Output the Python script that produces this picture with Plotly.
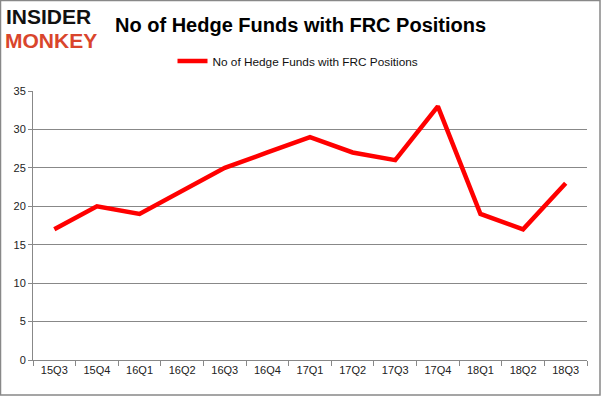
import plotly.graph_objects as go

quarters = ["15Q3", "15Q4", "16Q1", "16Q2", "16Q3", "16Q4", "17Q1", "17Q2", "17Q3", "17Q4", "18Q1", "18Q2", "18Q3"]
hedge_funds = [17, 20, 19, 22, 25, 27, 29, 27, 26, 33, 19, 17, 23]
y_ticks = [0, 5, 10, 15, 20, 25, 30, 35]
series_name = "No of Hedge Funds with FRC Positions"
title_text = "No of Hedge Funds with FRC Positions"

W, H = 601, 396
L, R, T, B = 33, 14, 91, 36
pw, ph = W - L - R, H - T - B

def px_x(x):
    return (x - L) / pw

def px_y(y):
    return (H - B - y) / ph

fig = go.Figure()
fig.add_trace(go.Scatter(
    x=quarters, y=hedge_funds, mode="lines", name=series_name,
    line=dict(color="#ff0000", width=4.5),
))

fig.update_layout(
    width=W, height=H,
    margin=dict(l=L, r=R, t=T, b=B),
    paper_bgcolor="white", plot_bgcolor="white",
    font=dict(family="Liberation Sans, Arial, sans-serif", color="#222", size=11),
    showlegend=True,
    legend=dict(orientation="h", x=px_x(298), xanchor="center", y=px_y(61), yanchor="middle",
                font=dict(size=11.8, color="#111"), bgcolor="rgba(0,0,0,0)"),
    xaxis=dict(type="category", range=[-0.5, len(quarters) - 0.5], showgrid=False,
               showline=True, linecolor="#888", linewidth=1,
               ticks="outside", tickson="boundaries", ticklen=5, tickcolor="#888",
               tickfont=dict(size=11, color="#222"), fixedrange=True),
    yaxis=dict(range=[0, 35], tickvals=y_ticks, showgrid=True, gridcolor="#888", gridwidth=1,
               showline=True, linecolor="#888", linewidth=1, ticks="outside", ticklen=4,
               tickcolor="#888", tickfont=dict(size=11, color="#222"), zeroline=False,
               fixedrange=True),
)

# title
fig.add_annotation(text="<b>" + title_text + "</b>", xref="paper", yref="paper",
                   x=px_x(300), y=px_y(25), xanchor="center", yanchor="middle",
                   showarrow=False, font=dict(size=20, color="#000",
                                              family="Liberation Sans, Arial, sans-serif"))
# logo
logo_font = "Liberation Sans, Arial, sans-serif"
fig.add_annotation(text="<b>INSIDER</b>", xref="paper", yref="paper",
                   x=px_x(4), y=px_y(16.5), xanchor="left", yanchor="middle",
                   showarrow=False, font=dict(size=21, color="#111", family=logo_font))
fig.add_annotation(text="<b>MONKEY</b>", xref="paper", yref="paper",
                   x=px_x(3), y=px_y(40.5), xanchor="left", yanchor="middle",
                   showarrow=False, font=dict(size=21, color="#d9452c", family=logo_font))

# outer border
fig.add_shape(type="rect", xref="paper", yref="paper",
              x0=px_x(0.5), x1=px_x(600), y0=px_y(395), y1=px_y(0.5),
              line=dict(color="#888", width=1.5), fillcolor="rgba(0,0,0,0)", layer="below")

fig.write_html("out.html", config={"displayModeBar": False},
               post_script="document.body.style.margin='0';document.body.style.overflow='hidden';")
